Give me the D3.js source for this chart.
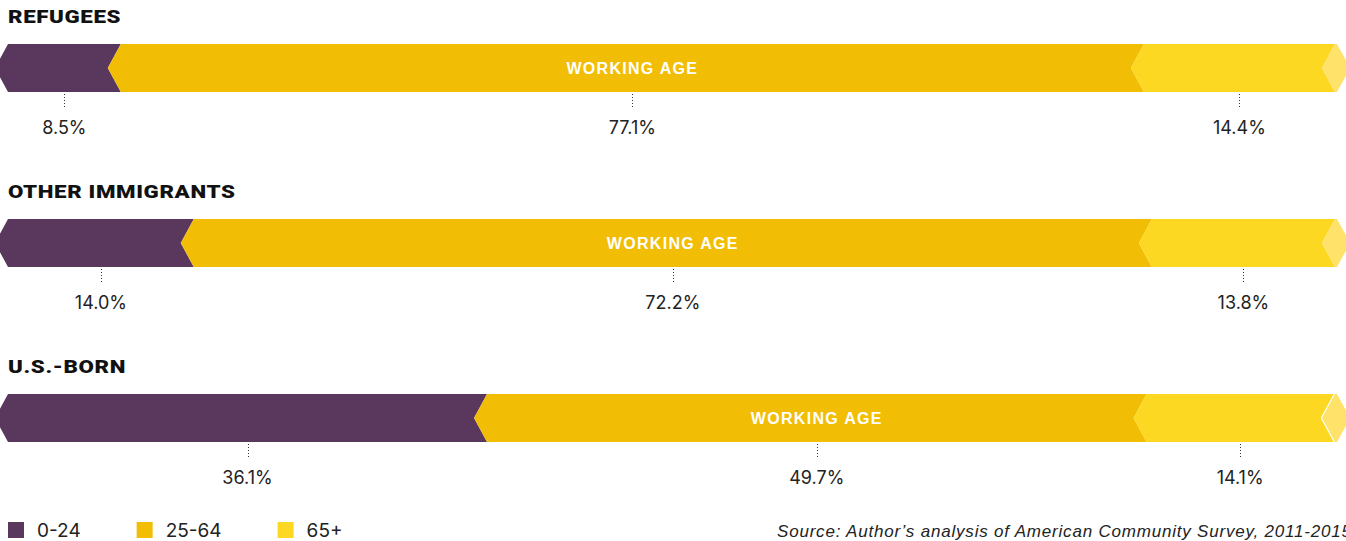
<!DOCTYPE html>
<html>
<head>
<meta charset="utf-8">
<script src="https://cdn.jsdelivr.net/npm/d3@7"></script>
<style>
  body { margin: 0; background: #fff; }
  svg { display: block; }
</style>
</head>
<body>
<svg width="1346" height="541"></svg>
<script>
// groups and shares (percent) per age band
var groups = ["REFUGEES", "OTHER IMMIGRANTS", "U.S.-BORN"]
var ages = ["0-24", "25-64", "65+"]
var young = [8.5, 14.0, 36.1]
var working = [77.1, 72.2, 49.7]
var older = [14.4, 13.8, 14.1]
var middleLabel = "WORKING AGE"
var source = "Source: Author\u2019s analysis of American Community Survey, 2011-2015"

var colors = ["#5a385d", "#f2bd05", "#fdd822"]
var capColor = "#fee26a"

var barH = 48
var notch = 13

var svg = d3.select("svg")

var x = d3.scaleLinear().domain([0, 100]).range([8, 1335])
var y = d3.scaleBand().domain(groups).range([0, 525])
var color = d3.scaleOrdinal().domain(ages).range(colors)

var rows = groups.map((g, i) => {
  var vals = [young[i], working[i], older[i]]
  var start = 0
  var segs = vals.map((v, j) => {
    var s = {age: ages[j], value: v, x0: start, x1: start + v}
    start += v
    return s
  })
  return {group: g, segs: segs}
})

function segPath(a, b, t) {
  var m = t + barH / 2, bt = t + barH
  return [[a, t], [b, t], [b - notch, m], [b, bt], [a, bt], [a - notch, m]]
}

var line = d3.line()

var row = svg.selectAll(".row")
  .data(rows)
  .enter().append("g")
  .attr("class", "row")
  .attr("transform", d => `translate(0,${y(d.group)})`)

// titles (wide heavy face, stretched a bit)
row.append("text")
  .attr("transform", "translate(8,23) scale(1.24,1)")
  .style("font-family", "Roboto, 'Liberation Sans', sans-serif")
  .style("font-weight", 900)
  .style("font-size", "18px")
  .style("letter-spacing", "0.5px")
  .style("fill", "#111")
  .text(d => d.group)

// segments
row.selectAll(".seg")
  .data(d => d.segs)
  .enter().append("path")
  .attr("class", "seg")
  .attr("d", d => line(segPath(x(d.x0), x(d.x1), 44)) + "Z")
  .style("fill", d => color(d.age))

// light end cap
row.append("path")
  .attr("d", () => {
    var e = x(100), t = 44, m = t + barH / 2, bt = t + barH
    return line([[e - notch, m], [e, t], [e + 2, t], [e + 2 + notch, m], [e + 2, bt], [e, bt]]) + "Z"
  })
  .style("fill", capColor)

// working age label
row.append("text")
  .attr("x", d => x((d.segs[1].x0 + d.segs[1].x1) / 2))
  .attr("y", 44 + barH / 2 + 6)
  .attr("text-anchor", "middle")
  .style("font-family", "'Liberation Sans', Arial, sans-serif")
  .style("font-weight", 700)
  .style("font-size", "16px")
  .style("letter-spacing", "1.3px")
  .style("fill", "#fff")
  .text(middleLabel)

// dotted ticks
row.selectAll(".tick")
  .data(d => d.segs)
  .enter().append("line")
  .attr("class", "tick")
  .attr("x1", d => Math.round(x((d.x0 + d.x1) / 2)) + 0.5)
  .attr("x2", d => Math.round(x((d.x0 + d.x1) / 2)) + 0.5)
  .attr("y1", 94)
  .attr("y2", 107)
  .style("stroke", "#333")
  .style("stroke-width", 1)
  .style("stroke-dasharray", "1,2")

// value labels
row.selectAll(".val")
  .data(d => d.segs)
  .enter().append("text")
  .attr("class", "val")
  .attr("x", d => x((d.x0 + d.x1) / 2))
  .attr("y", 134)
  .attr("text-anchor", "middle")
  .style("font-family", "Inter, 'Liberation Sans', sans-serif")
  .style("font-size", "18px")
  .style("fill", "#222")
  .text(d => d.value.toFixed(1) + "%")

// legend, items laid out one after the other
var legend = svg.selectAll(".legend")
  .data(ages)
  .enter().append("g")
  .attr("class", "legend")

legend.append("rect")
  .attr("width", 16)
  .attr("height", 16)
  .style("fill", d => color(d))

legend.append("text")
  .attr("x", 29)
  .attr("y", 15)
  .style("font-family", "Inter, 'Liberation Sans', sans-serif")
  .style("font-size", "19px")
  .style("fill", "#222")
  .text(d => d)

var lx = 8
legend.each(function() {
  var g = d3.select(this)
  g.attr("transform", `translate(${lx},522)`)
  lx += 29 + g.select("text").node().getComputedTextLength() + 56
})

// source
svg.append("text")
  .attr("x", 777)
  .attr("y", 537)
  .style("font-family", "'Liberation Sans', Arial, sans-serif")
  .style("font-style", "italic")
  .style("font-size", "17px")
  .style("letter-spacing", "0.8px")
  .style("fill", "#222")
  .text(source)
</script>
</body>
</html>
